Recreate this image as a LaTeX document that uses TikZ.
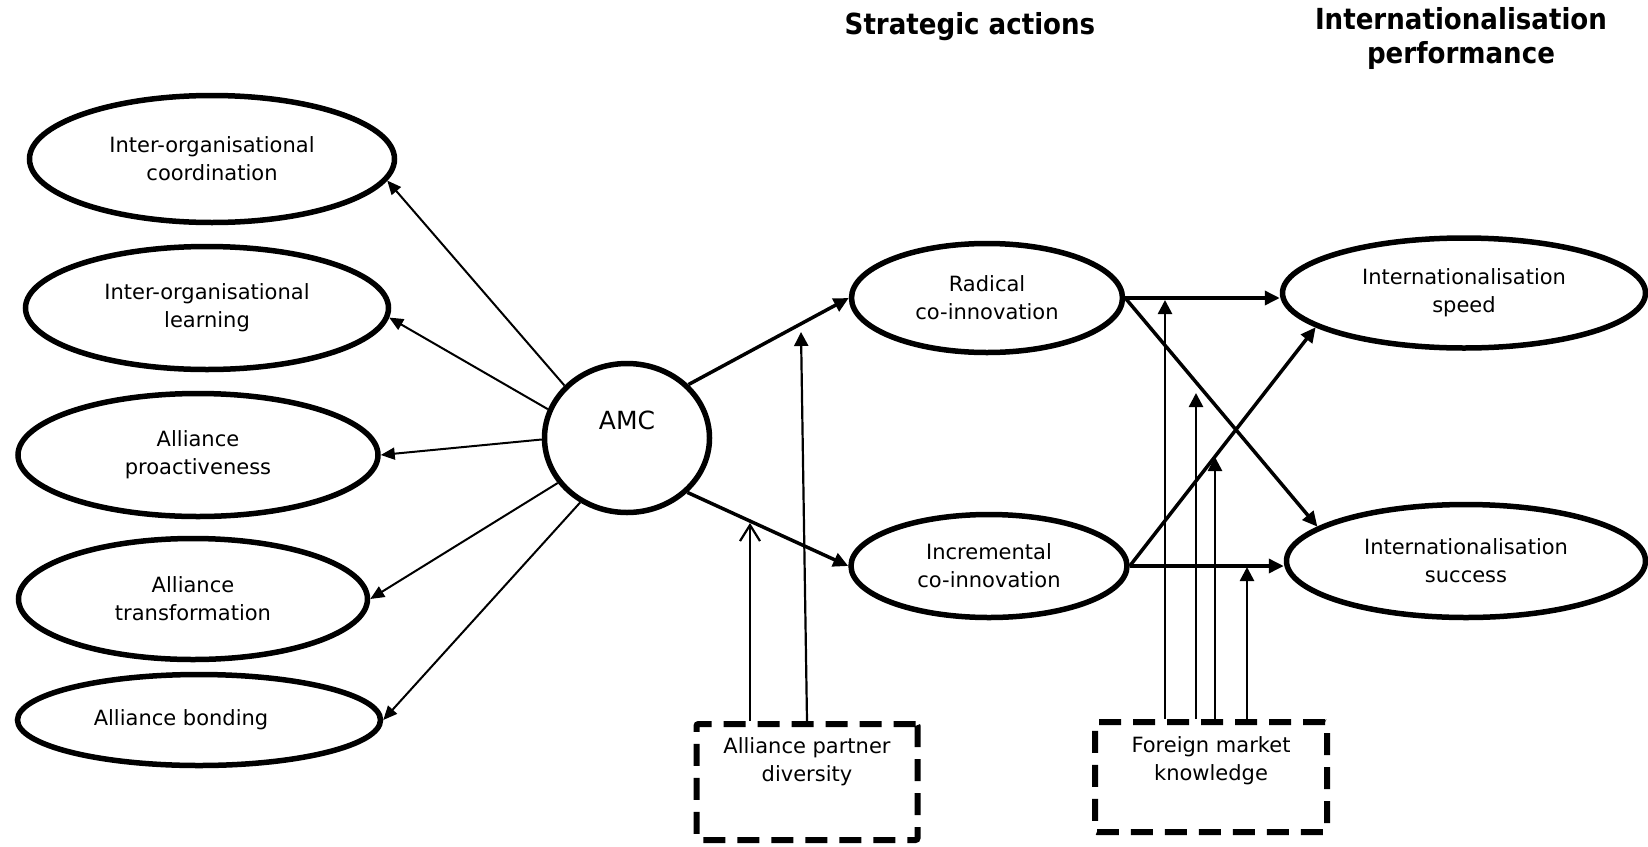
\documentclass[tikz,border=0pt]{standalone}
\usepackage{fontspec}
\setmainfont{DejaVu Sans}
\newfontfamily\headfont{DejaVu Sans Condensed}
\usetikzlibrary{arrows.meta,shapes.geometric}
\tikzset{
	factor/.style={ellipse, draw, line width=5.5pt, inner sep=0pt, align=center, font=\fontsize{21}{28}\selectfont},
	modbox/.style={draw, line width=6pt, dash pattern=on 22pt off 12pt, rounded corners=2pt},
	modtext/.style={align=center, font=\fontsize{21}{28}\selectfont},
	headtext/.style={align=center, font=\headfont\bfseries\fontsize{29}{34}\selectfont},
	thinarrow/.style={line width=2pt, -{Triangle[length=14pt,width=12pt]}},
	mainarrow/.style={line width=3.5pt, -{Triangle[length=15pt,width=14pt]}},
	modarrow/.style={line width=2.6pt, -{Triangle[length=14pt,width=14pt]}}
}

\begin{document}
\begin{tikzpicture}[x=1pt, y=-1pt]
		%%%%% FRAME %%%%%
		\useasboundingbox (0, 0) rectangle (1648, 846);
		
		\node[headtext] (strat) at (970, 27) {Strategic actions};
		\node[headtext] (perf) at (1461, 38) {Internationalisation\\performance};
		
		%%%%% AMC DIMENSIONS %%%%%
		\node[factor, minimum width=365, minimum height=127] (coord) at (212, 159) {Inter-organisational\\coordination};
		\node[factor, minimum width=363, minimum height=123] (learn) at (207, 308) {Inter-organisational\\learning};
		\node[factor, minimum width=360, minimum height=123] (proact) at (198, 455) {Alliance\\proactiveness};
		\node[factor, minimum width=349, minimum height=121] (transf) at (193, 599) {Alliance\\transformation};
		\node[factor, minimum width=363, minimum height=91] (bond) at (199, 720) {Alliance bonding\hspace*{36pt}};
		
		\node[factor, minimum width=165, minimum height=149] (amc) at (627, 438) {};
		\node[font=\fontsize{25}{30}\selectfont] (amclbl) at (627, 420) {AMC};
		
		%%%%% STRATEGIC ACTIONS %%%%%
		\node[factor, minimum width=271, minimum height=109] (radical) at (987, 298) {Radical\\co-innovation};
		\node[factor, minimum width=276, minimum height=103] (increm) at (989, 566) {Incremental\\co-innovation};
		
		%%%%% PERFORMANCE %%%%%
		\node[factor, minimum width=363, minimum height=110] (speed) at (1464, 293) {Internationalisation\\speed};
		\node[factor, minimum width=359, minimum height=113] (success) at (1466, 561) {Internationalisation\\success};
		
		%%%%% MODERATORS %%%%%
		\node[modbox, minimum width=221, minimum height=116] (apd) at (807, 782) {};
		\node[modtext] (apdlbl) at (807, 762) {Alliance partner\\diversity};
		\node[modbox, minimum width=232, minimum height=110] (fmk) at (1211, 777) {};
		\node[modtext] (fmklbl) at (1211, 761) {Foreign market\\knowledge};
		
		\coordinate (apdA) at (750, 523);
		\coordinate (apdB) at (801, 332);
		\coordinate (fmkA) at (1165, 300);
		\coordinate (fmkB) at (1196, 393);
		\coordinate (fmkC) at (1215, 457);
		\coordinate (fmkD) at (1247, 567);
		
		%%%%% CONNECTORS %%%%%
		\draw[thinarrow] (amc.140) -- (coord.-7);
		\draw[thinarrow] (amc.160) -- (learn.-3);
		\draw[thinarrow] (amc.181) -- (proact.east);
		\draw[thinarrow] (amc.213) -- (transf.east);
		\draw[thinarrow] (amc.234) -- (bond.east);
		
		\draw[mainarrow] (amc.41.5) -- (radical.west);
		\draw[mainarrow] (amc.-42.6) -- (increm.west);
		
		\draw[mainarrow] (radical.east) -- (radical.east -| speed.west);
		\draw[mainarrow] (radical.east) -- (success.167);
		\draw[mainarrow] (increm.east) -- (speed.193);
		\draw[mainarrow] (increm.east) -- (increm.east -| success.west);
		
		\draw[line width=2.2pt, -{Straight Barb[length=16pt,width=20pt]}] (apd.north -| apdA) -- (apdA);
		\draw[line width=2.2pt, -{Triangle[length=14pt,width=14pt]}] (apd.north) -- (apdB);
		
		\draw[modarrow] (fmk.north -| fmkA) -- (fmkA);
		\draw[modarrow] (fmk.north -| fmkB) -- (fmkB);
		\draw[modarrow] (fmk.north -| fmkC) -- (fmkC);
		\draw[modarrow] (fmk.north -| fmkD) -- (fmkD);
		
		%%%%% END %%%%%
	\end{tikzpicture}
\end{document}
